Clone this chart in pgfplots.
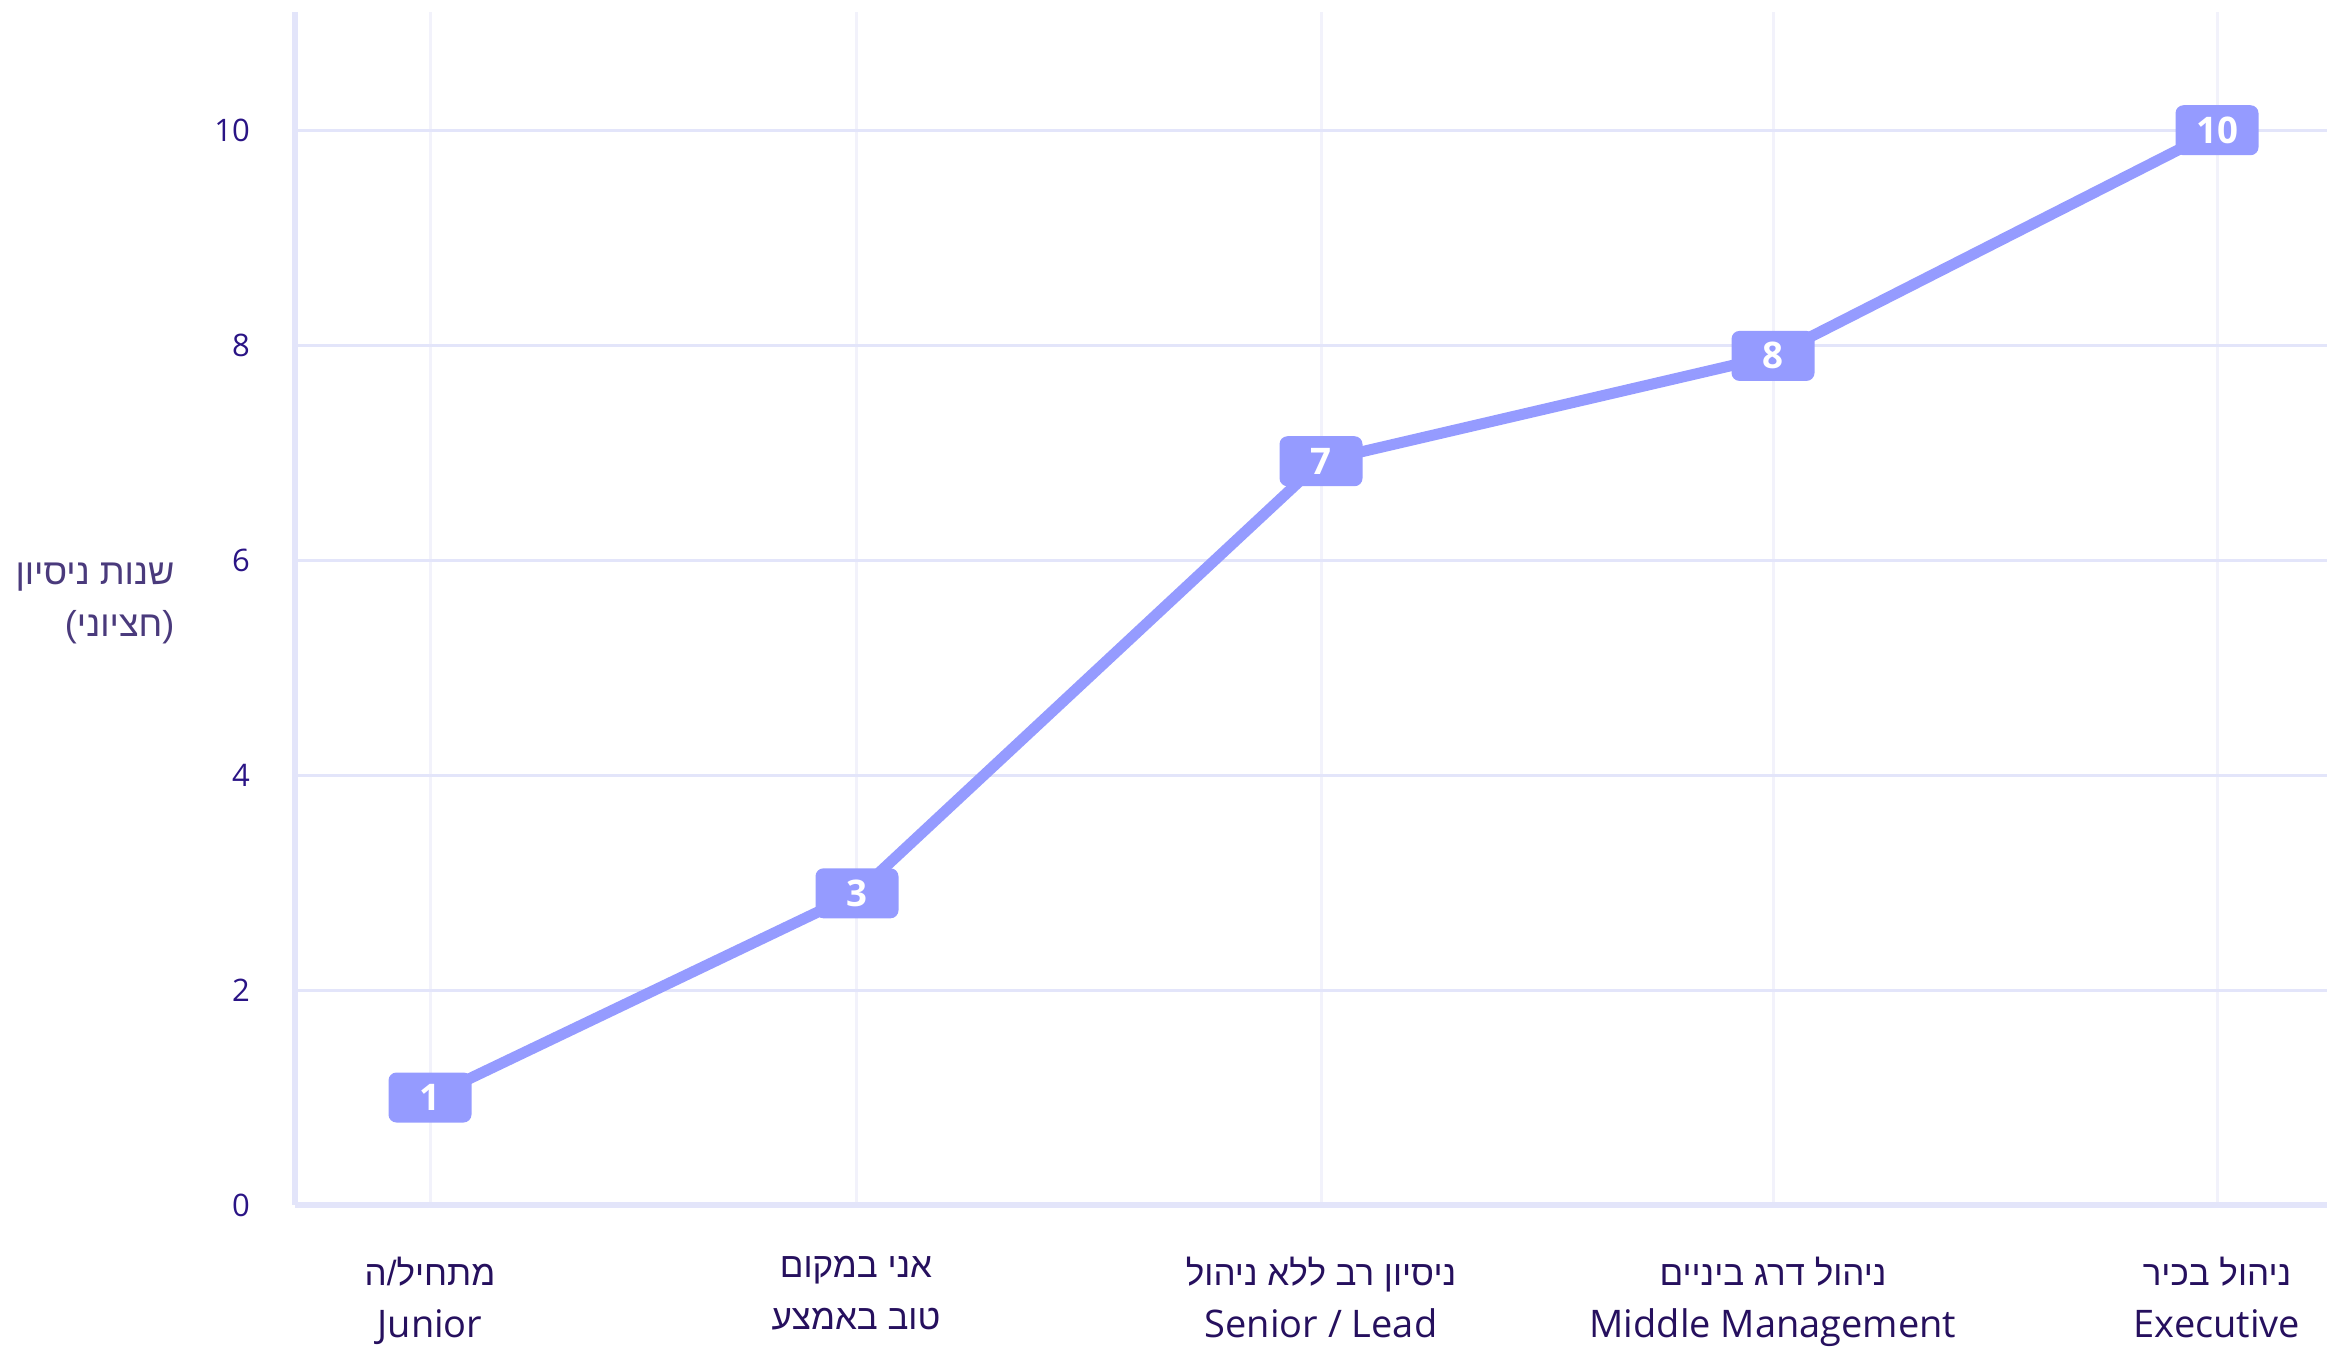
\documentclass[border=0pt]{standalone}
\usepackage{pgfplots}
\pgfplotsset{compat=1.18}
\usepackage{fontspec}
\setmainfont{Open Sans}
\newfontfamily\hebfont[Script=Hebrew,Scale=0.92]{Liberation Sans}
\newfontfamily\hebtitle[Script=Hebrew]{Liberation Sans}
\TeXXeTstate=1
\definecolor{linec}{HTML}{959BFF}
\definecolor{gridh}{HTML}{E3E5FA}
\definecolor{gridv}{HTML}{F2F2FB}
\definecolor{tickc}{HTML}{2A1485}
\definecolor{catc}{HTML}{26105E}
\definecolor{titc}{HTML}{4A3A7C}
\begin{document}
\begin{tikzpicture}
\useasboundingbox (-88.5pt,-44.7pt) rectangle (609.6pt,361.5pt);
\begin{axis}[
  scale only axis, width=609.6pt, height=357.9pt,
  xmin=295, xmax=2327, ymin=0, ymax=11.1,
  separate axis lines,
  axis x line*=bottom, axis y line*=left,
  axis line style={draw=gridh, line width=1.8pt},
  xtick={430,856,1321,1773,2217},
  xticklabels={
    {{\hebfont\beginR מתחיל/ה\endR}\\Junior},
    {{\hebfont\beginR אני במקום\endR}\\{\hebfont\beginR טוב באמצע\endR}},
    {{\hebfont\beginR ניסיון רב ללא ניהול\endR}\\Senior / Lead},
    {{\hebfont\beginR ניהול דרג ביניים\endR}\\Middle Management},
    {{\hebfont\beginR ניהול בכיר\endR}\\Executive}},
  ytick={0,2,4,6,8,10},
  major tick length=0pt,
  grid=major,
  major x grid style={draw=gridv, line width=0.9pt},
  major y grid style={draw=gridh, line width=0.9pt},
  /pgf/number format/assume math mode=true,
  xticklabel style={font=\fontsize{11.4}{15.6}\selectfont, text=catc, align=center, anchor=north, inner sep=0pt, yshift=-15.3pt},
  yticklabel style={font=\fontsize{9.3}{11}\selectfont, text=tickc, xshift=-10pt},
  clip=false,
]
\addplot[color=linec, line width=3.3pt, line join=round, mark=none,
  nodes near coords={\pgfmathprintnumber[fixed, precision=0]{\pgfplotspointmeta}},
  every node near coord/.append style={anchor=center, fill=linec, rounded corners=2.4pt, text=white,
    font=\fontsize{11}{13}\selectfont\bfseries, minimum width=24.9pt, minimum height=15pt, inner sep=0pt}]
  coordinates {(430,1) (857,2.9) (1321,6.92) (1773,7.9) (2217,10)};
\node[anchor=east, xshift=-36pt, yshift=-2.2pt, align=right, text=titc, inner sep=0pt,
  font=\fontsize{10.8}{15.6}\selectfont] at (rel axis cs:0,0.51)
  {{\hebtitle\beginR שנות ניסיון\endR}\\{\hebtitle\beginR (חציוני)\endR}};
\end{axis}
\end{tikzpicture}
\end{document}
